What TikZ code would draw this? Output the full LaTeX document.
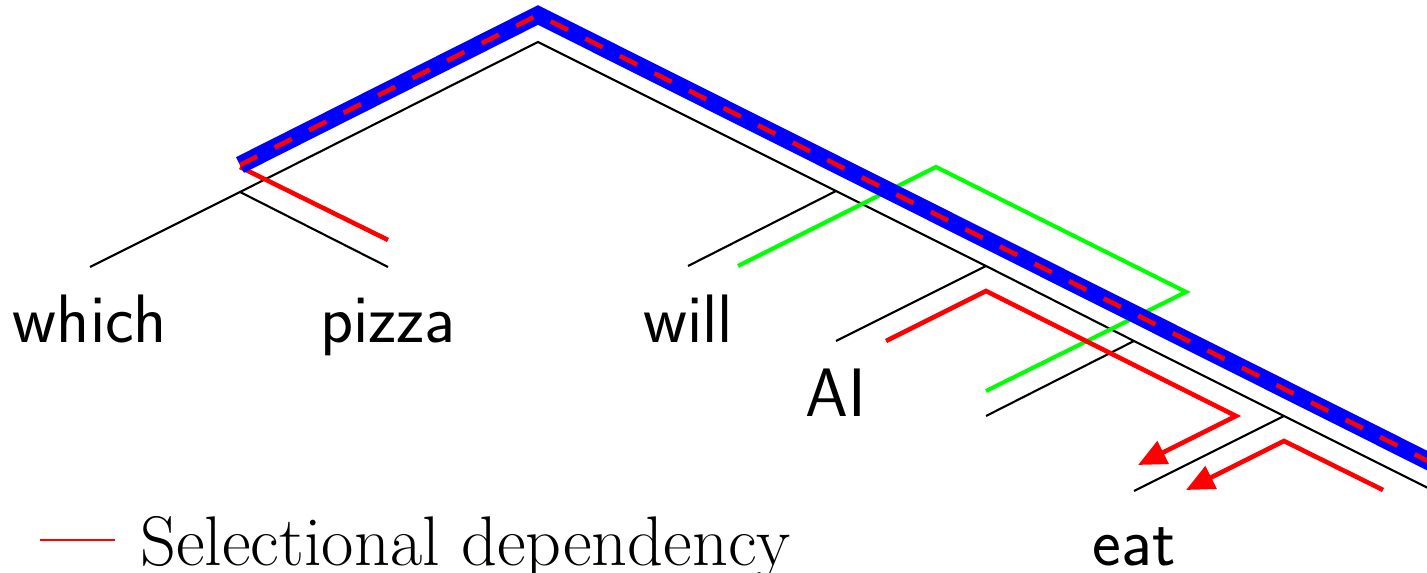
\documentclass[tikz,border=0pt]{standalone}
\usepackage{fontspec}
\usetikzlibrary{arrows.meta,calc}
\definecolor{SelRed}{RGB}{255,0,0}
\definecolor{SpineBlue}{RGB}{0,0,255}
\definecolor{AgreeGreen}{RGB}{0,255,0}

\begin{document}
\begin{tikzpicture}[x=0.02cm,y=-0.02cm,>={Triangle[length=16pt,width=14pt]},
    branch/.style={line width=1.2pt,black},
    word/.style={font=\fontsize{39}{44}\selectfont\sffamily,anchor=base,inner sep=0pt},
    sel/.style={line width=2.6pt,SelRed},
    agree/.style={line width=2.3pt,AgreeGreen},
    spine/.style={line width=10pt,SpineBlue}]
  \useasboundingbox (0,0) rectangle (1427,573);
  % tree points
  \coordinate (root) at (538,42);
  \coordinate (wp) at (240,192);
  \coordinate (which) at (90,267);
  \coordinate (pizza) at (388,267);
  \coordinate (t1) at (836,191);
  \coordinate (will) at (688,266);
  \coordinate (t2) at (986,266);
  \coordinate (ai) at (836,341);
  \coordinate (t3) at (1134,341);
  \coordinate (gap) at (986,416);
  \coordinate (t4) at (1284,416);
  \coordinate (eat) at (1134,491);
  \coordinate (vp) at (1434,491);
  % branches
  \draw[branch] (which) -- (wp) -- (pizza);
  \draw[branch] (wp) -- (root) -- (t1) -- (t2) -- (t3) -- (t4) -- (vp);
  \draw[branch] (t1) -- (will);
  \draw[branch] (t2) -- (ai);
  \draw[branch] (t3) -- (gap);
  \draw[branch] (t4) -- (eat);
  % words
  \node[word] (w1) at ($(which)+(0,76)$) {which};
  \node[word] (w2) at ($(pizza)+(0,76)$) {pizza};
  \node[word] (w3) at ($(will)+(0,77)$) {will};
  \node[word] (w4) at ($(ai)+(0,76)$) {AI};
  \node[word] (w5) at ($(eat)+(0,75)$) {eat};
  % dependencies
  \draw[agree] ($(will)+(50,0)$) -- ($(t1)+(100,-24)$) -- ($(t3)+(52,-49)$) -- ($(gap)+(0,-25)$);
  \draw[sel] ($(wp)+(0,-25)$) -- ($(pizza)+(0,-27)$);
  \draw[sel,->] ($(ai)+(50,0)$) -- ($(t2)+(0,25)$) -- ($(t4)+(-48,0)$) -- ($(eat)+(4,-26)$);
  \draw[sel,->] ($(vp)+(-51,-1)$) -- ($(t4)+(0,25)$) -- ($(eat)+(52,-1)$);
  \draw[spine] ($(wp)+(0,-27)$) -- ($(root)+(0,-27)$) -- ($(vp)+(0,-27)$);
  \draw[sel,dash pattern=on 11pt off 11pt] ($(wp)+(0,-27)$) -- ($(root)+(0,-27)$) -- ($(vp)+(0,-27)$);
  % legend
  \coordinate (keyA) at (40,540);
  \coordinate (keyB) at (115,540);
  \draw[SelRed,line width=1.3pt] (keyA) -- (keyB);
  \node[font=\fontsize{40}{46}\selectfont,anchor=base west,inner sep=0pt] (keytext) at (140,566) {Selectional dependency};
\end{tikzpicture}
\end{document}
